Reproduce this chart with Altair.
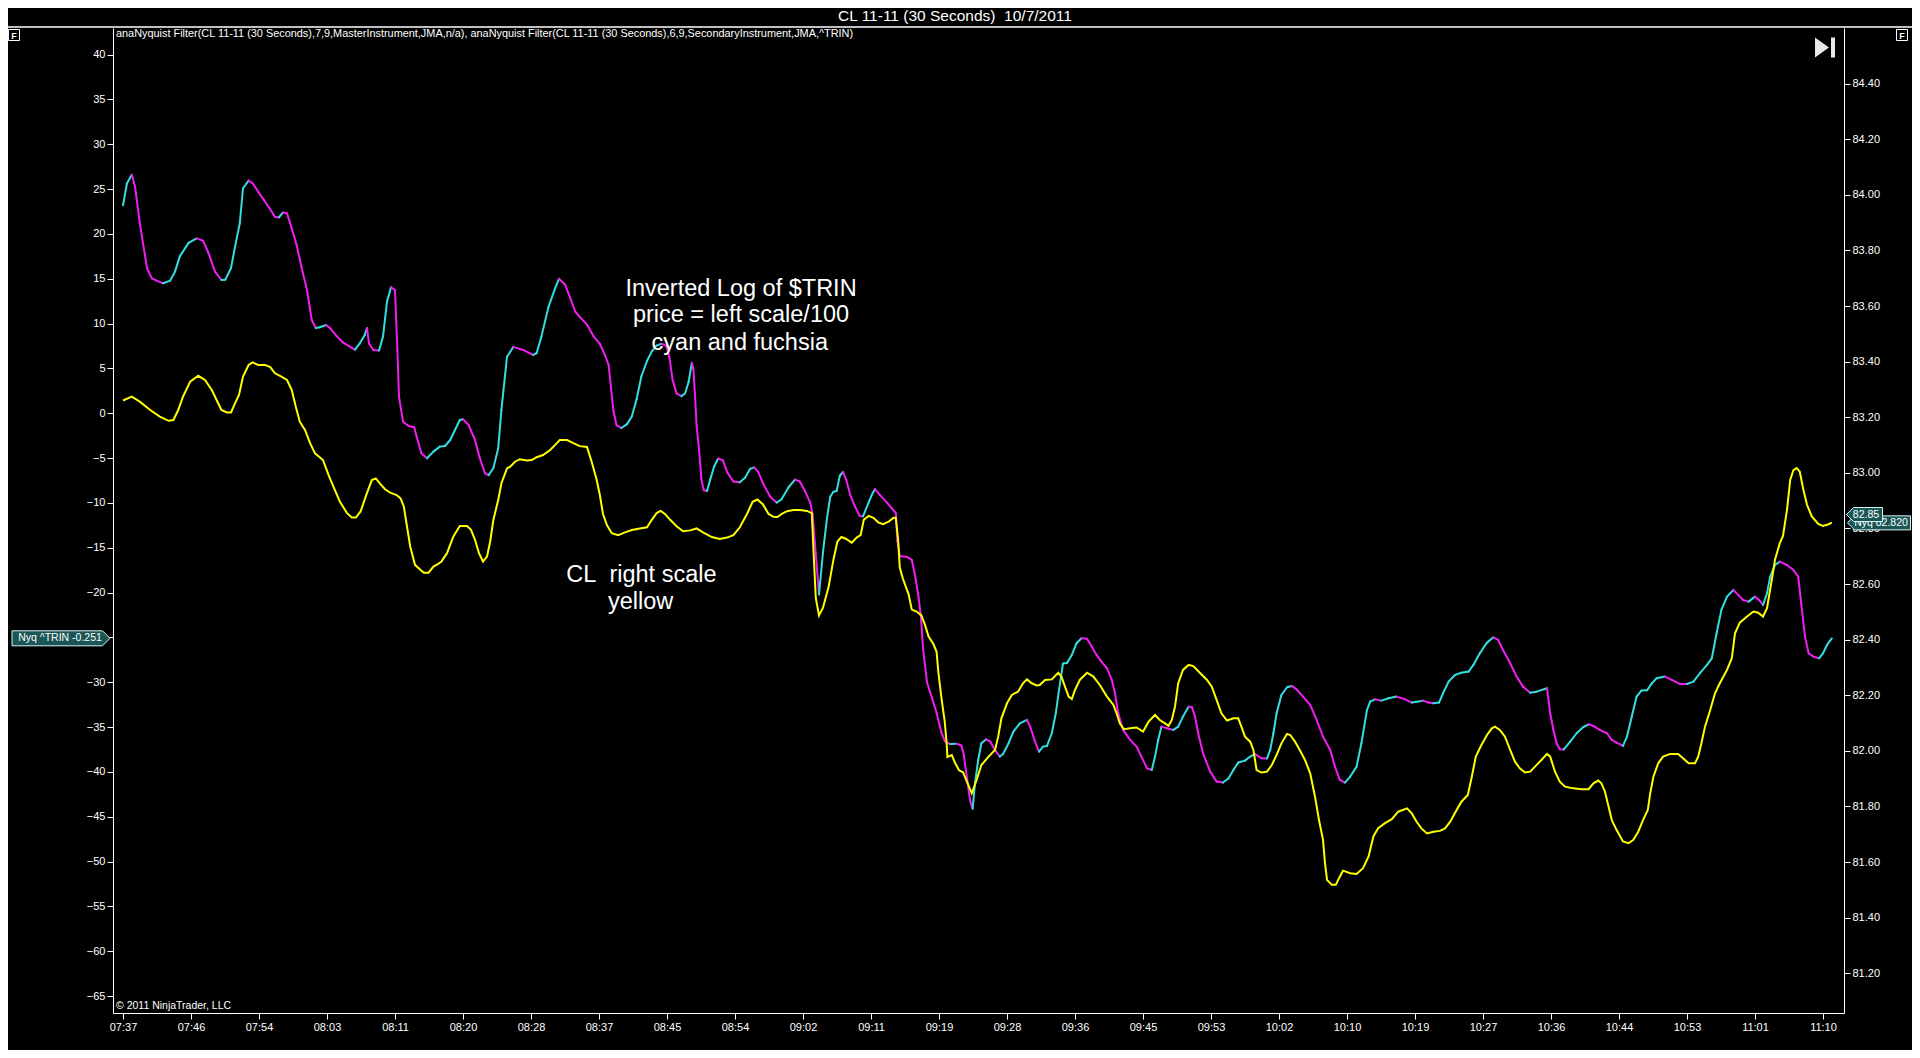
import altair as alt
import pandas as pd

# ---------------- data ----------------
# Inverted log of $TRIN (left scale), minutes after 07:37
trin_min = [0.0, 0.5, 1.1, 1.5, 2.1, 3.0, 3.6, 4.2, 5.0, 5.9, 6.5, 7.1, 8.2, 9.2, 10.0, 10.7, 11.5, 12.3, 12.8, 13.5,
            14.1, 14.6, 15.0, 15.7, 16.2, 16.9, 17.6, 18.3, 19.0, 19.5, 20.0, 20.5, 21.1, 21.7, 22.3, 23.0, 23.4, 23.6,
            24.1, 24.6, 25.4, 25.9, 26.7, 27.5, 28.4, 29.0, 29.6, 30.2, 30.5, 30.75, 31.3, 32.0, 32.5, 33.0, 33.5, 34.0,
            34.3, 34.5, 35.0, 35.7, 36.4, 36.7, 37.3, 38.0, 38.8, 39.6, 40.25, 40.9, 41.5, 42.1, 42.5, 43.2, 44.0, 44.6,
            45.25, 45.7, 46.3, 46.9, 47.3, 48.0, 48.8, 50.0, 51.3, 51.7, 52.3, 53.2, 54.0,
            54.5, 55.25, 55.9, 56.5, 57.1, 58.0, 58.8, 59.6, 60.25, 60.7, 61.0, 61.3, 61.7, 62.3, 63.0, 63.6, 64.2, 64.8,
            65.5, 66.1, 66.7, 67.3, 67.9, 68.3, 68.7, 69.2, 69.8, 70.25, 70.7, 71.1, 71.3, 71.5, 71.7, 72.0, 72.3, 72.6,
            73.0, 73.4, 73.9, 74.4, 75.0, 75.5, 76.3, 77.1, 77.75, 78.4, 78.9, 79.4, 80.0, 80.9, 81.7, 82.3, 83.2, 84.0,
            84.6, 85.25, 85.9, 86.2, 87.0, 87.5, 88.0, 88.4, 88.8, 89.2, 89.6, 90.0, 90.4, 90.9, 91.5, 92.1, 92.5, 93.2,
            93.6, 94.0, 94.6, 95.5, 96.1, 96.6, 96.8, 97.1, 98.0, 98.6, 99.0, 99.4, 99.75, 100.0, 100.5, 101.1, 101.7,
            102.3, 102.75, 103.4, 104.2, 104.8, 105.1, 105.5, 105.9, 106.2,
            106.5, 106.9, 107.3, 107.9, 108.4, 109.0, 109.6, 110.0, 110.7, 111.3, 112.1, 113.0, 113.4, 114.0, 114.5,
            115.0, 115.5, 116.1, 116.6, 117.0, 117.5, 118.0, 118.6, 119.2, 119.8, 120.5, 121.1, 121.7, 122.3, 123.0,
            123.6, 124.0, 124.4, 125.0, 125.9, 126.7, 127.3, 128.0, 128.6, 129.0, 129.4, 129.8, 130.5, 131.3, 131.9,
            132.5, 133.2, 133.6, 134.0, 134.4, 135.0, 135.9, 136.7, 137.5, 138.2, 138.8, 139.4, 140.25, 140.9, 141.5,
            142.3, 143.0, 143.4, 143.8, 144.2, 144.8, 145.5, 146.1, 146.7, 147.5, 148.4, 149.2, 150.0, 150.9, 151.5,
            152.1, 152.75, 153.4, 154.2, 154.8, 155.5, 155.9, 156.5, 157.3, 158.2, 159.2,
            160.25, 161.1, 161.9, 162.5, 163.2, 163.8, 164.5, 165.0, 165.7, 166.5, 167.3, 168.2, 168.8, 169.6, 170.5,
            171.3, 171.9, 172.5, 173.4, 174.2, 175.0, 175.9, 176.7, 178.0, 178.4, 178.8, 179.2, 179.6, 180.1, 180.9,
            181.7, 182.5, 183.2, 183.8, 184.6, 185.5, 186.1, 186.7, 187.5, 188.0, 188.6, 189.2, 189.8, 190.5, 191.1,
            191.7, 192.75, 193.6, 194.6, 195.5, 196.3, 197.1, 198.0, 198.6, 199.2, 199.8, 200.5, 201.3, 201.9, 202.5,
            203.2, 204.0, 204.5, 205.0, 205.5, 205.9, 206.5, 207.1, 208.0, 208.8, 209.4, 209.8, 210.25, 210.7, 211.3,
            212.0, 212.5, 213.0, 213.6]
trin_val = [23.2, 25.65, 26.6, 25.3, 21.2, 16.2, 15.05, 14.8, 14.5, 14.8, 15.8, 17.5, 19.0, 19.5, 19.25, 17.85, 15.8,
            14.87, 14.9, 16.2, 19.0, 21.2, 25.1, 25.95, 25.65, 24.7, 23.8, 22.9, 21.9, 21.85, 22.4, 22.3, 20.6, 18.8,
            16.35, 13.75, 11.5, 10.4, 9.5, 9.6, 9.85, 9.5, 8.6, 7.9, 7.4, 7.1, 7.8, 8.7, 9.5, 7.8, 7.06, 7.0, 8.55,
            12.45, 14.05, 13.75, 7.06, 1.85, -0.94, -1.42, -1.56, -2.6, -4.46, -5.02, -4.28, -3.72, -3.65, -2.98, -1.86,
            -0.75, -0.67, -1.3, -2.98, -5.02, -6.7, -6.9, -6.1, -3.9, 0.37, 6.3, 7.4, 7.06, 6.5, 6.7, 8.55, 11.9, 13.9,
            15.0, 14.37, 12.88, 11.38, 10.74, 9.89, 8.61, 7.75, 6.47, 5.41, 2.85, 0.28, -1.34, -1.64, -1.21, -0.36, 1.57,
            4.13, 5.83, 6.9, 7.54, 7.75, 7.54, 6.26, 3.7, 2.21, 1.91, 2.21, 3.49, 5.62, 4.98, 1.99, -1.42, -3.98, -7.4,
            -8.59, -8.68, -7.4, -5.9, -5.05, -5.26, -6.54, -7.61, -7.7, -7.19, -6.2, -6.03, -6.54, -7.82, -9.32, -9.96,
            -9.62, -8.25, -7.4, -7.61, -8.68, -9.96, -11.24, -20.2, -15.5, -11.67, -9.32, -8.76, -8.68, -6.97, -6.54,
            -7.4, -9.1, -10.4, -11.45, -11.5, -9.96, -9.1, -8.47, -9.1, -9.96, -10.6, -11.15, -14.23, -15.93, -16.02,
            -16.36, -18.07, -20.2, -22.76, -26.2, -30.0, -31.7, -33.4, -35.6, -36.6, -36.9, -36.85, -37.06, -38.1, -40.7,
            -43.25, -44.1,
            -41.27, -38.67, -36.8, -36.36, -36.62, -37.55, -38.29, -38.0, -36.8, -35.5, -34.58, -34.2, -34.95, -36.62,
            -37.74, -37.18, -37.1, -35.69, -33.46, -30.86, -27.9, -27.85, -26.95, -25.65, -25.1, -25.15, -26.03, -26.95,
            -27.7, -28.44, -29.74, -31.23, -33.46, -35.32, -36.43, -37.18, -38.29, -39.6, -39.78, -38.29, -36.43,
            -34.95, -35.13, -35.32, -34.95, -33.83, -32.72, -32.75, -33.83, -35.69, -37.92, -39.97, -41.08, -41.19,
            -40.71, -39.78, -38.96, -38.74, -38.29, -38.0, -38.48, -38.5, -37.55, -35.69, -33.46, -31.42, -30.56,
            -30.41, -30.79, -31.6, -32.53, -34.2, -36.06, -37.55, -39.41, -40.9, -41.19, -40.52, -39.41, -36.8, -33.09,
            -32.16, -31.9, -32.05, -31.79, -31.6,
            -31.9, -32.27, -32.16, -32.05, -32.27, -32.35, -32.27, -31.23, -29.93, -29.19, -28.93, -28.81, -28.07,
            -26.77, -25.58, -24.99, -25.28, -26.4, -27.88, -29.37, -30.49, -31.16, -31.05, -30.67, -33.46, -35.32,
            -36.81, -37.48, -37.5, -36.62, -35.69, -35.02, -34.69, -34.87, -35.32, -35.69, -36.44, -36.73, -37.1,
            -36.06, -33.83, -31.6, -30.93, -30.9, -30.12, -29.56, -29.37, -29.74, -30.19, -30.2, -29.93, -29.0, -28.07,
            -27.33, -24.54, -21.94, -20.45, -19.71, -20.26, -20.82, -21.01, -20.45, -20.82, -21.38, -20.08, -18.22,
            -16.92, -16.55, -16.92, -17.48, -18.22, -21.38, -24.91, -26.77, -27.14, -27.33, -26.77, -25.84, -25.1]

# CL 11-11 price (right scale), minutes after 07:37
cl_min = [0.0, 1.1, 2.1, 3.4, 4.6, 5.7, 6.3, 6.9, 7.5, 8.4, 9.4, 10.25, 11.1, 11.7, 12.3, 13.0, 13.5, 14.0, 14.5, 15.0,
          15.7, 16.2, 16.9, 17.75, 18.4, 19.0, 19.8, 20.5, 21.1, 21.6, 22.1, 22.75, 23.4, 24.0, 25.0, 25.7, 26.3, 27.1,
          28.0, 28.6, 29.1, 29.7, 30.4, 31.1, 31.6, 32.1, 32.75, 33.4, 34.2, 34.7, 35.1, 35.5, 35.9, 36.5, 37.3, 37.6,
          38.2, 38.8, 39.4, 39.8, 40.5, 41.3, 42.1, 43.0, 43.5, 44.0, 44.5, 45.0, 45.5, 45.9, 46.3, 46.9, 47.3, 48.0,
          48.4, 49.0, 49.6, 50.5, 51.1, 51.7, 52.5, 53.4, 54.2, 54.6,
          55.5, 56.3, 57.1, 58.0, 58.6, 59.2, 59.6, 60.0, 60.5, 61.1, 61.9, 62.75, 63.6, 64.6, 65.5, 66.1, 66.7, 67.2,
          67.75, 68.4, 69.2, 70.0, 70.9, 71.7, 72.5, 73.6, 74.6, 75.5, 76.3, 77.1, 78.0, 78.7, 79.3, 80.0, 80.7, 81.3,
          81.8, 82.35, 83.0, 83.8, 84.6, 85.5, 86.1, 86.3, 86.6, 87.0, 87.5, 88.2, 88.8, 89.3, 89.8, 90.4, 91.1, 91.7,
          92.2, 92.6, 93.2, 93.8, 94.4, 95.0, 95.7, 96.3, 96.6, 96.9, 97.1, 97.5, 98.2, 98.6, 99.2, 99.8, 100.25, 100.7,
          101.3, 101.7, 101.9, 102.3, 102.7, 102.96, 103.05, 103.6, 104.0, 104.5, 105.0, 105.5, 106.1,
          106.7, 107.3, 108.2, 109.0, 109.4, 109.8, 110.5, 111.1, 111.9, 112.5, 113.0, 113.6, 114.2, 114.6, 115.25,
          116.1, 116.9, 117.3, 117.75, 118.2, 118.6, 119.0, 119.6, 120.5, 121.3, 122.1, 123.0, 123.8, 124.2, 124.6,
          125.1, 125.9, 126.7, 127.5, 128.2, 129.0, 129.6, 130.25, 130.7, 131.1, 131.5, 131.9, 132.5, 133.2, 133.8,
          134.6, 135.5, 136.1, 136.7, 137.3, 138.0, 138.8, 139.4, 139.8, 140.25, 140.9, 141.3, 141.7, 142.3, 143.0,
          143.6, 144.2, 144.8, 145.5, 145.9, 146.5, 147.1, 147.75, 148.4, 149.0, 149.5, 150.0, 150.25, 150.5, 151.1,
          151.6, 152.0, 152.5, 153.4, 154.2, 155.0, 155.7, 156.3, 156.9, 157.75, 158.6, 159.4,
          160.5, 161.1, 161.7, 162.3, 163.0, 163.8, 164.6, 165.25, 165.9, 166.7, 167.3, 168.1, 168.6, 169.1, 169.8,
          170.5, 171.1, 171.5, 172.1, 172.75, 173.4, 174.0, 174.6, 175.25, 175.9, 176.5, 177.3, 178.0, 178.4, 179.0,
          179.6, 180.25, 181.3, 182.3, 183.2, 183.8, 184.4, 184.8, 185.25, 185.7, 186.1, 186.7, 187.5, 188.2, 188.8,
          189.4, 190.0, 190.6, 190.9, 191.3, 191.9, 192.5, 193.4, 194.4, 195.0, 195.7, 196.5, 196.9, 197.3, 197.75,
          198.4, 199.0, 199.6, 200.5, 201.1, 201.5, 202.1, 203.0, 203.8, 204.4, 205.0, 205.5, 206.1, 206.5, 207.1,
          207.5, 208.0, 208.4, 208.8, 209.2, 209.6, 210.0, 210.5, 211.1, 211.9, 212.5, 213.2, 213.6]
cl_price = [83.26, 83.274, 83.256, 83.226, 83.202, 83.187, 83.19, 83.226, 83.274, 83.328, 83.349, 83.334, 83.298,
            83.262, 83.226, 83.217, 83.217, 83.25, 83.28, 83.346, 83.388, 83.397, 83.388, 83.388, 83.38, 83.358,
            83.346, 83.334, 83.298, 83.238, 83.184, 83.154, 83.106, 83.07, 83.046, 82.992, 82.95, 82.897, 82.855,
            82.839, 82.839, 82.861, 82.92, 82.974, 82.98, 82.962, 82.941, 82.929, 82.92, 82.908, 82.879, 82.807,
            82.735, 82.669, 82.648, 82.641, 82.641, 82.663, 82.672, 82.681, 82.711, 82.771, 82.809, 82.809, 82.795,
            82.759, 82.711, 82.681, 82.699, 82.753, 82.831, 82.902, 82.962, 83.016, 83.022, 83.04, 83.049, 83.044,
            83.046, 83.056, 83.064, 83.082, 83.106, 83.118,
            83.118, 83.107, 83.096, 83.093, 83.038, 82.976, 82.921, 82.852, 82.811, 82.783, 82.776, 82.786, 82.794,
            82.8, 82.804, 82.831, 82.855, 82.863, 82.852, 82.831, 82.808, 82.79, 82.793, 82.8, 82.786, 82.769, 82.762,
            82.767, 82.776, 82.804, 82.852, 82.896, 82.904, 82.886, 82.852, 82.842, 82.841, 82.852, 82.862, 82.866,
            82.866, 82.863, 82.855, 82.728, 82.549, 82.487, 82.515, 82.59, 82.687, 82.753, 82.769, 82.762, 82.749,
            82.767, 82.776, 82.831, 82.845, 82.838, 82.822, 82.815, 82.824, 82.838, 82.838, 82.755, 82.659, 82.618,
            82.563, 82.508, 82.501, 82.487, 82.453, 82.411, 82.384, 82.356, 82.288, 82.191, 82.109, 82.026, 81.978,
            81.985, 81.957, 81.93, 81.923, 81.888, 81.847,
            81.895, 81.949, 81.979, 82.003, 82.051, 82.117, 82.171, 82.201, 82.213, 82.243, 82.257, 82.243, 82.235,
            82.237, 82.255, 82.257, 82.281, 82.267, 82.231, 82.195, 82.186, 82.219, 82.255, 82.281, 82.267, 82.237,
            82.195, 82.165, 82.135, 82.099, 82.078, 82.081, 82.084, 82.069, 82.105, 82.129, 82.111, 82.099, 82.09,
            82.111, 82.159, 82.243, 82.291, 82.309, 82.305, 82.281, 82.255, 82.231, 82.183, 82.135, 82.109, 82.117,
            82.117, 82.087, 82.051, 82.033, 82.003, 81.931, 81.922, 81.925, 81.949, 81.985, 82.027, 82.061, 82.057,
            82.033, 82.003, 81.967, 81.919, 81.835, 81.751, 81.68, 81.596, 81.536, 81.518, 81.518, 81.542, 81.569,
            81.56, 81.557, 81.578, 81.62, 81.692, 81.722, 81.74, 81.754, 81.781,
            81.793, 81.775, 81.745, 81.721, 81.703, 81.709, 81.712, 81.721, 81.745, 81.787, 81.817, 81.841, 81.907,
            81.979, 82.021, 82.057, 82.081, 82.087, 82.075, 82.051, 82.003, 81.961, 81.937, 81.922, 81.925, 81.943,
            81.967, 81.989, 81.979, 81.925, 81.889, 81.871, 81.865, 81.862, 81.862, 81.883, 81.893, 81.883, 81.853,
            81.799, 81.751, 81.715, 81.674, 81.668, 81.68, 81.709, 81.751, 81.787, 81.847, 81.907, 81.955, 81.979,
            81.989, 81.989, 81.973, 81.955, 81.955, 81.979, 82.027, 82.087, 82.147, 82.207, 82.243, 82.291, 82.333,
            82.423, 82.461, 82.483, 82.501, 82.497, 82.483, 82.513, 82.615, 82.687, 82.747, 82.773, 82.867, 82.974,
            83.01, 83.017, 83.004, 82.945, 82.885, 82.843, 82.816, 82.809, 82.815, 82.821]

# axis ticks and labels
tick_min = [0, 8.5, 17, 25.5, 34, 42.5, 51, 59.5, 68, 76.5, 85, 93.5, 102, 110.5, 119, 127.5, 136, 144.5, 153,
            161.5, 170, 178.5, 187, 195.5, 204, 212.5]
tick_labels = ["07:37", "07:46", "07:54", "08:03", "08:11", "08:20", "08:28", "08:37", "08:45", "08:54", "09:02",
               "09:11", "09:19", "09:28", "09:36", "09:45", "09:53", "10:02", "10:10", "10:19", "10:27", "10:36",
               "10:44", "10:53", "11:01", "11:10"]
left_ticks = [40, 35, 30, 25, 20, 15, 10, 5, 0, -5, -10, -15, -20, -25, -30, -35, -40, -45, -50, -55, -60, -65]
right_ticks = [84.40, 84.20, 84.00, 83.80, 83.60, 83.40, 83.20, 83.00, 82.80, 82.60, 82.40, 82.20, 82.00, 81.80,
               81.60, 81.40, 81.20]

# annotations
ann_text = ["Inverted Log of $TRIN", "price = left scale/100", "cyan and fuchsia", "CL\u00a0 right scale", "yellow"]
ann_min = [77.25, 77.25, 77.1, 64.8, 64.7]
ann_val = [13.9, 10.95, 7.85, -18.05, -21.05]

# value markers
left_marker_val = [-25.1]
left_marker_text = ["Nyq ^TRIN -0.251"]
right_marker_val = [82.82, 82.85]
right_marker_text = ["Nyq 82.820", "82.85"]

title_text = "CL 11-11 (30 Seconds)\u00a0 10/7/2011"
indicator_text = ("anaNyquist Filter(CL 11-11 (30 Seconds),7,9,MasterInstrument,JMA,n/a), "
                  "anaNyquist Filter(CL 11-11 (30 Seconds),6,9,SecondaryInstrument,JMA,^TRIN)")
copyright_text = "\u00a9 2011 NinjaTrader, LLC"

# ---------------- styling ----------------
CYAN = "#33dede"
MAG = "#f01ef0"
YEL = "#ffff00"
FONT = "Liberation Sans, Arial, sans-serif"
BOXFILL = "#1b5656"
BOXSTROKE = "#d8f4f4"

W, H = 1731, 985

seg = pd.DataFrame({
    "m0": trin_min[:-1], "v0": trin_val[:-1],
    "m1": trin_min[1:], "v1": trin_val[1:],
})
seg["dir"] = ["up" if b > a else "down" for a, b in zip(trin_val[:-1], trin_val[1:])]

cl_df = pd.DataFrame({"m": cl_min, "p": cl_price})
ann_df = pd.DataFrame({"t": ann_text, "m": ann_min, "v": ann_val})
lm_df = pd.DataFrame({"v": left_marker_val, "t": left_marker_text})
rm_df = pd.DataFrame({"p": right_marker_val, "t": right_marker_text})

lab_js = "[" + ",".join("'" + s + "'" for s in tick_labels) + "]"

axis_common = dict(domainColor="white", tickColor="white", labelColor="white", labelFont=FONT,
                   labelFontSize=11, tickSize=6, grid=False, title=None, domainWidth=1, tickWidth=1)

xsc = alt.Scale(domain=[-1.25, 215.125], nice=False, zero=False)
xax = alt.Axis(values=tick_min, labelExpr=f"{lab_js}[round(datum.value / 8.5)]", labelPadding=2,
               labelAngle=0, orient="bottom", **axis_common)
ysc_l = alt.Scale(domain=[-66.89, 42.97], nice=False, zero=False)
yax_l = alt.Axis(values=left_ticks, format="d", orient="left", labelPadding=2, **axis_common)
ysc_r = alt.Scale(domain=[81.057, 84.600], nice=False, zero=False)
yax_r = alt.Axis(values=right_ticks, format=".2f", orient="right", labelPadding=2, **axis_common)

# --- left (TRIN) group ---
trin_lines = alt.Chart(seg).mark_rule(strokeWidth=2, strokeCap="round").encode(
    x=alt.X("m0:Q", scale=xsc, axis=xax),
    x2="m1:Q",
    y=alt.Y("v0:Q", scale=ysc_l, axis=yax_l),
    y2="v1:Q",
    color=alt.Color("dir:N", scale=alt.Scale(domain=["up", "down"], range=[CYAN, MAG]), legend=None),
)

ann_layer = alt.Chart(ann_df).mark_text(color="white", fontSize=23.5, font=FONT, baseline="middle").encode(
    x=alt.X("m:Q", scale=xsc, axis=xax),
    y=alt.Y("v:Q", scale=ysc_l, axis=yax_l),
    text="t:N",
)

LEFT_BOX = "M-1,-0.153 L0.847,-0.153 L1,0 L0.847,0.153 L-1,0.153 Z"
lm_box = alt.Chart(lm_df).mark_point(shape=LEFT_BOX, filled=True, fill=BOXFILL, stroke=BOXSTROKE,
                                     strokeWidth=1, size=98 * 98, opacity=1).encode(
    x=alt.value(-52), y=alt.Y("v:Q", scale=ysc_l, axis=yax_l))
lm_txt = alt.Chart(lm_df).mark_text(color="white", fontSize=10.5, font=FONT, baseline="middle").encode(
    x=alt.value(-53), y=alt.Y("v:Q", scale=ysc_l, axis=yax_l), text="t:N")

left_group = alt.layer(trin_lines, ann_layer, lm_box, lm_txt)

# --- right (price) group ---
cl_line = alt.Chart(cl_df).mark_line(color=YEL, strokeWidth=2).encode(
    x=alt.X("m:Q", scale=xsc, axis=xax),
    y=alt.Y("p:Q", scale=ysc_r, axis=yax_r),
)

NYQ_BOX = "M-1,0 L-0.778,-0.222 L1,-0.222 L1,0.222 L-0.778,0.222 Z"
PX_BOX = "M-1,0 L-0.61,-0.389 L1,-0.389 L1,0.389 L-0.61,0.389 Z"
rm_nyq = rm_df.iloc[[0]]
rm_px = rm_df.iloc[[1]]
nyq_box = alt.Chart(rm_nyq).mark_point(shape=NYQ_BOX, filled=True, fill=BOXFILL, stroke=BOXSTROKE,
                                       strokeWidth=1, size=63 * 63, opacity=1).encode(
    x=alt.value(W + 35), y=alt.Y("p:Q", scale=ysc_r, axis=yax_r))
nyq_txt = alt.Chart(rm_nyq).mark_text(color="white", fontSize=10.5, font=FONT, baseline="middle").encode(
    x=alt.value(W + 37), y=alt.Y("p:Q", scale=ysc_r, axis=yax_r), text="t:N")
px_box = alt.Chart(rm_px).mark_point(shape=PX_BOX, filled=True, fill=BOXFILL, stroke=BOXSTROKE,
                                     strokeWidth=1, size=36 * 36, opacity=1).encode(
    x=alt.value(W + 20.5), y=alt.Y("p:Q", scale=ysc_r, axis=yax_r))
px_txt = alt.Chart(rm_px).mark_text(color="white", fontSize=10.5, font=FONT, baseline="middle").encode(
    x=alt.value(W + 22), y=alt.Y("p:Q", scale=ysc_r, axis=yax_r), text="t:N")

right_group = alt.layer(cl_line, nyq_box, nyq_txt, px_box, px_txt)

# --- frame decorations (no scales) ---
one = pd.DataFrame({"k": [0]})
sep = alt.Chart(one).mark_rule(color="white", strokeWidth=1.5).encode(
    x=alt.value(-105), x2=alt.value(W + 68), y=alt.value(-1))
title = alt.Chart(one).mark_text(text=title_text, color="white", fontSize=15.5, font=FONT,
                                 baseline="middle", align="center").encode(
    x=alt.value(842), y=alt.value(-12))
indicator = alt.Chart(one).mark_text(text=indicator_text, color="white", fontSize=10.9, font=FONT,
                                     baseline="middle", align="left").encode(
    x=alt.value(3), y=alt.value(6))
copyright_ = alt.Chart(one).mark_text(text=copyright_text, color="white", fontSize=10.5, font=FONT,
                                      baseline="middle", align="left").encode(
    x=alt.value(3), y=alt.value(H - 7))
fbox = alt.Chart(pd.DataFrame({"px": [-99, W + 58]})).mark_point(
    shape="square", size=121, filled=False, stroke="white", strokeWidth=1, opacity=1).encode(
    x=alt.X("px:Q", scale=None), y=alt.value(7))
ftxt = alt.Chart(pd.DataFrame({"px": [-99, W + 58]})).mark_text(
    text="F", color="white", fontSize=9, font=FONT, fontWeight="bold", baseline="middle").encode(
    x=alt.X("px:Q", scale=None), y=alt.value(7.5))
ICON = "M-1,-1 L0.4,0 L-1,1 Z M0.6,-1 L1,-1 L1,1 L0.6,1 Z"
icon = alt.Chart(one).mark_point(shape=ICON, filled=True, fill="#e8e8e8", strokeWidth=0, size=400,
                                 opacity=1).encode(x=alt.value(W - 19), y=alt.value(19.5))

deco = alt.layer(sep, title, indicator, copyright_, fbox, ftxt, icon)

chart = alt.layer(left_group, right_group, deco).resolve_scale(y="independent").properties(
    width=W, height=H,
    padding={"left": 105, "top": 20, "right": 68, "bottom": 37},
    autosize=alt.AutoSizeParams(type="none"),
    background="black",
).configure_view(strokeWidth=0).configure_axis(grid=False)

chart.save("out.html", embed_options={"renderer": "svg", "actions": False})
